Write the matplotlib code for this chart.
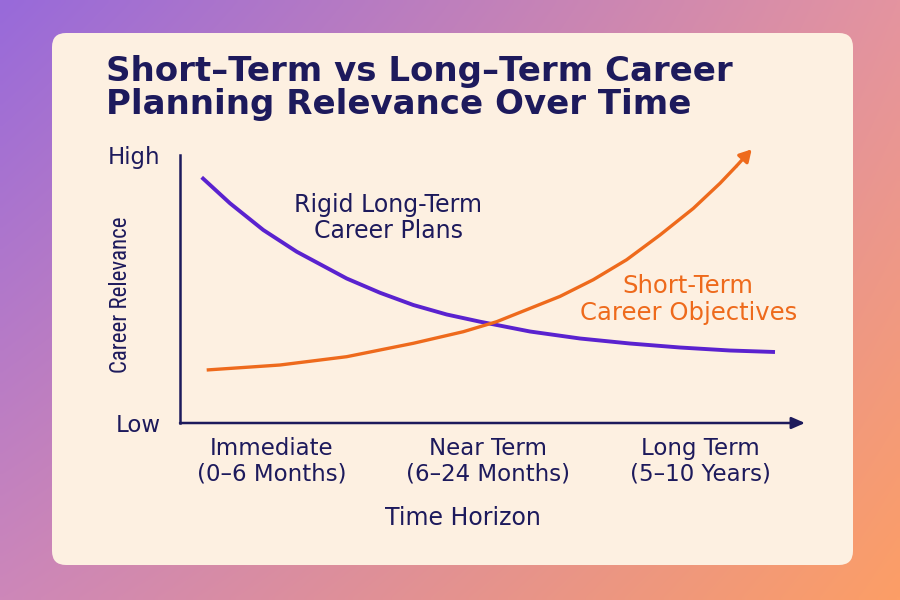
import numpy as np
import matplotlib
matplotlib.use("Agg")
import matplotlib.pyplot as plt
from matplotlib.patches import FancyBboxPatch
from matplotlib import font_manager as fm

# ---------------- data ----------------
x_categories = ["Immediate\n(0–6 Months)", "Near Term\n(6–24 Months)", "Long Term\n(5–10 Years)"]
x_category_pos = [1.47, 4.93, 8.32]
y_tick_pos = [0, 10]
y_tick_labels = ["Low", "High"]

long_term_x = [0.347, 0.80, 1.333, 1.867, 2.667, 3.20, 3.733, 4.267, 4.80, 5.60, 6.40, 7.20, 8.00, 8.80, 9.52]
long_term_y = [9.168, 8.198, 7.201, 6.392, 5.392, 4.860, 4.403, 4.049, 3.780, 3.414, 3.153, 2.966, 2.817, 2.705, 2.649]

short_term_x = [0.427, 1.60, 2.667, 3.733, 4.533, 5.067, 6.08, 6.613, 7.147, 7.68, 8.213, 8.64, 8.907]
short_term_y = [1.978, 2.164, 2.474, 2.974, 3.407, 3.780, 4.724, 5.347, 6.093, 7.015, 8.007, 8.944, 9.597]
short_term_tip = (9.147, 10.213)

title = "Short–Term vs Long–Term Career\nPlanning Relevance Over Time"

NAVY = "#1d1a5c"
PURPLE = "#5a22cf"
ORANGE = "#ee6a1c"
CREAM = "#fdf0e1"

installed = {f.name for f in fm.fontManager.ttflist}
narrow = [f for f in ["Liberation Sans Narrow", "Roboto Condensed", "DejaVu Sans Condensed"] if f in installed]
narrow_font = narrow[0] if narrow else "Liberation Sans"
plt.rcParams["font.family"] = ["DejaVu Sans"]

fig = plt.figure(figsize=(9, 6), dpi=100)

# ---------- background gradient ----------
bg = fig.add_axes([0, 0, 1, 1])
bg.set_xlim(0, 900)
bg.set_ylim(600, 0)
bg.axis("off")
tl = np.array([152, 106, 218]) / 255
tr = np.array([228, 148, 160]) / 255
bl = np.array([205, 135, 185]) / 255
br = np.array([252, 158, 102]) / 255
u = np.linspace(0, 1, 180)[None, :, None]
v = np.linspace(0, 1, 120)[:, None, None]
grad = (1 - u) * (1 - v) * tl + u * (1 - v) * tr + (1 - u) * v * bl + u * v * br
bg.imshow(grad, extent=(0, 900, 600, 0), aspect="auto", interpolation="bilinear", zorder=0)
panel = FancyBboxPatch((52, 33), 801, 532, boxstyle="round,pad=0,rounding_size=14",
                       facecolor=CREAM, edgecolor="none", zorder=1)
bg.add_patch(panel)

# title
fig.text(106 / 900, 1 - 88 / 600, title, fontsize=24.5, color=NAVY, fontweight="bold",
         ha="left", va="center", linespacing=1.0)

# ---------- main axes ----------
ax = fig.add_axes([180 / 900, 177 / 600, 625 / 900, 268 / 600])
ax.set_facecolor("none")
ax.set_xlim(0, 10)
ax.set_ylim(0, 10)
for s in ["top", "right", "bottom"]:
    ax.spines[s].set_visible(False)
ax.spines["left"].set_color(NAVY)
ax.spines["left"].set_linewidth(1.8)
ax.annotate("", xy=(1, 0), xytext=(0, 0), xycoords="axes fraction",
            arrowprops=dict(arrowstyle="-|>,head_length=0.8,head_width=0.35",
                            color=NAVY, lw=1.8, shrinkA=0, shrinkB=0))

ax.set_xticks(x_category_pos)
ax.set_xticklabels(x_categories, fontsize=16.5, color=NAVY, linespacing=1.12)
ax.set_yticks(y_tick_pos)
ax.set_yticklabels(y_tick_labels, fontsize=16.5, color=NAVY)
ax.tick_params(axis="x", length=0, pad=10)
ax.tick_params(axis="y", length=0, pad=14)

ax.set_xlabel("Time Horizon", fontsize=17, color=NAVY)
ax.xaxis.set_label_coords(0.453, -0.31)
ax.set_ylabel("Career Relevance", fontsize=16.5, color=NAVY,
              family=[narrow_font, "DejaVu Sans"])
ax.yaxis.set_label_coords(-0.077, 0.48)

ax.plot(long_term_x, long_term_y, color=PURPLE, lw=2.8, solid_capstyle="butt",
        solid_joinstyle="round", clip_on=False)
ax.plot(short_term_x, short_term_y, color=ORANGE, lw=2.4, solid_capstyle="butt",
        solid_joinstyle="round", clip_on=False)
ax.annotate("", xy=short_term_tip, xytext=(short_term_x[-1], short_term_y[-1]),
            arrowprops=dict(arrowstyle="-|>,head_length=0.7,head_width=0.4",
                            color=ORANGE, lw=2.4, shrinkA=0, shrinkB=0), annotation_clip=False)

ax.text(3.33, 7.65, "Rigid Long-Term\nCareer Plans", fontsize=17, color=NAVY,
        ha="center", va="center", linespacing=1.15)
ax.text(8.13, 4.6, "Short-Term\nCareer Objectives", fontsize=17.5, color=ORANGE,
        ha="center", va="center", linespacing=1.15)

fig.savefig("out.png", dpi=100)
